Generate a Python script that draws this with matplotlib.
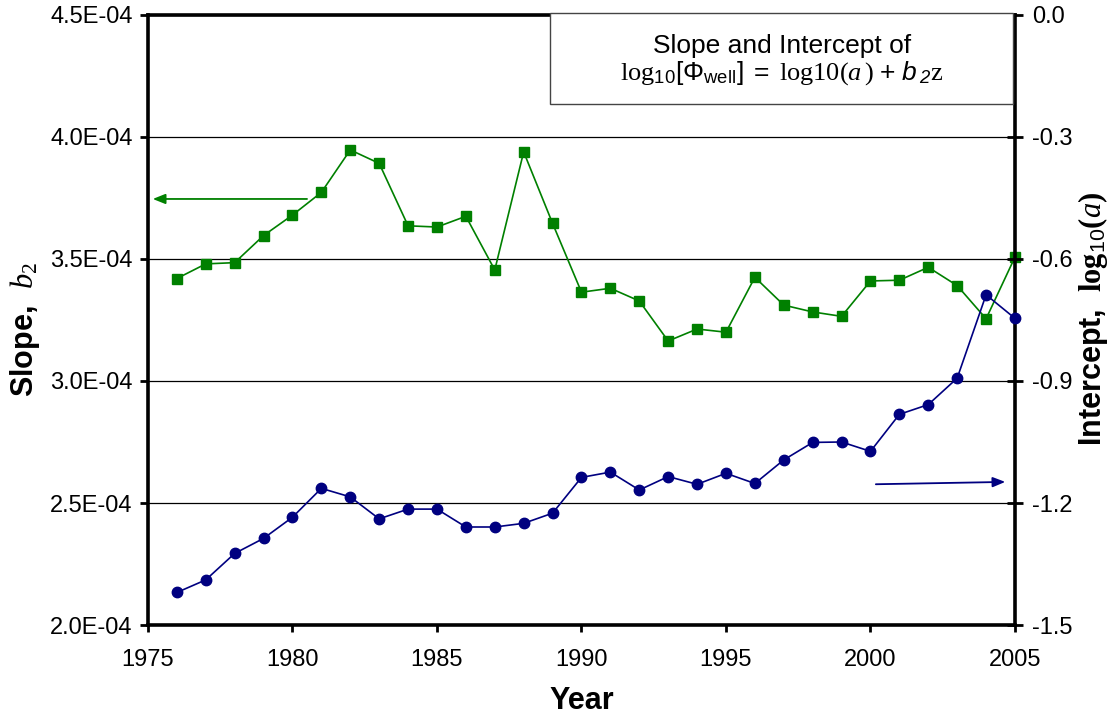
import matplotlib
matplotlib.use("Agg")
import matplotlib.pyplot as plt
from matplotlib.patches import Rectangle
from matplotlib.ticker import FixedLocator, FuncFormatter

plt.rcParams["font.family"] = ["Liberation Sans", "DejaVu Sans"]
plt.rcParams["axes.unicode_minus"] = False
plt.rcParams["mathtext.fontset"] = "custom"
plt.rcParams["mathtext.rm"] = "Liberation Serif"
plt.rcParams["mathtext.it"] = "Liberation Serif:italic"
plt.rcParams["mathtext.bf"] = "Liberation Serif:bold"
plt.rcParams["mathtext.sf"] = "Liberation Sans"
plt.rcParams["mathtext.cal"] = "Liberation Sans:italic"

# yearly fit results
years = list(range(1976, 2006))
slope_b2 = [3.42e-4, 3.48e-4, 3.485e-4, 3.596e-4, 3.68e-4, 3.773e-4, 3.947e-4, 3.892e-4,
            3.636e-4, 3.631e-4, 3.675e-4, 3.455e-4, 3.939e-4, 3.646e-4, 3.364e-4, 3.38e-4,
            3.328e-4, 3.164e-4, 3.213e-4, 3.20e-4, 3.425e-4, 3.311e-4, 3.283e-4, 3.265e-4,
            3.41e-4, 3.413e-4, 3.466e-4, 3.391e-4, 3.255e-4, 3.508e-4]
intercept_log_a = [-1.42, -1.389, -1.324, -1.287, -1.235, -1.164, -1.185, -1.239,
                   -1.215, -1.215, -1.259, -1.259, -1.25, -1.225, -1.137, -1.124,
                   -1.168, -1.135, -1.154, -1.127, -1.152, -1.094, -1.051, -1.05,
                   -1.073, -0.982, -0.958, -0.893, -0.688, -0.746]

x_ticks = [1975, 1980, 1985, 1990, 1995, 2000, 2005]
left_ticks = [2.0e-4, 2.5e-4, 3.0e-4, 3.5e-4, 4.0e-4, 4.5e-4]
right_ticks = [-1.5, -1.2, -0.9, -0.6, -0.3, 0.0]

GREEN = "#008000"
NAVY = "#000080"

fig = plt.figure(figsize=(11.1, 7.17), dpi=100)
ax = fig.add_axes([0.1333, 0.1283, 0.7811, 0.8508])
ax2 = ax.twinx()

ax.plot(years, slope_b2, color=GREEN, lw=1.2, marker="s", ms=7.5, mec=GREEN, mfc=GREEN,
        clip_on=False, zorder=3)
ax2.plot(years, intercept_log_a, color=NAVY, lw=1.2, marker="o", ms=7.5, mec=NAVY, mfc=NAVY,
         clip_on=False, zorder=3)

ax.set_xlim(1975, 2005)
ax.set_ylim(2.0e-4, 4.5e-4)
ax2.set_ylim(-1.5, 0.0)
ax.xaxis.set_major_locator(FixedLocator(x_ticks))
ax.yaxis.set_major_locator(FixedLocator(left_ticks))
ax2.yaxis.set_major_locator(FixedLocator(right_ticks))
ax.yaxis.set_major_formatter(FuncFormatter(lambda v, p: f"{v:.1E}"))
ax2.yaxis.set_major_formatter(FuncFormatter(lambda v, p: f"{v:.1f}"))

ax.grid(axis="y", color="black", lw=0.9)
ax.set_axisbelow(True)

for a in (ax, ax2):
    for s in a.spines.values():
        s.set_linewidth(2.6)
ax2.spines["top"].set_visible(False)
ax2.spines["left"].set_visible(False)
ax2.spines["bottom"].set_visible(False)
ax.spines["right"].set_visible(False)

ax.tick_params(axis="x", direction="out", length=5, width=2, labelsize=17, pad=12)
ax.tick_params(axis="y", direction="out", length=6, width=2, labelsize=17, pad=5)
ax2.tick_params(axis="y", direction="inout", length=12, width=2, labelsize=17, pad=6)

# direction arrows pointing each series to its axis
ax.annotate("", xy=(1975.07, 3.746e-4), xytext=(1980.6, 3.746e-4),
            arrowprops=dict(arrowstyle="-|>,head_length=0.75,head_width=0.3",
                            color=GREEN, lw=1.3))
ax2.annotate("", xy=(2004.76, -1.148), xytext=(2000.09, -1.154),
             arrowprops=dict(arrowstyle="-|>,head_length=0.75,head_width=0.3",
                             color=NAVY, lw=1.3))

# title box in the upper right corner
ax2.add_patch(Rectangle((0.4637, 0.854), 0.534, 0.149, transform=ax2.transAxes,
                        facecolor="white", edgecolor="#444444", lw=1.0,
                        clip_on=False, zorder=10))
ax2.text(0.731, 0.9377, "Slope and Intercept of", transform=ax2.transAxes,
         ha="center", va="baseline", fontsize=19, zorder=11)
ax2.text(0.731, 0.8934,
         r"$\mathrm{log}_{\mathsf{10}}\mathsf{[\Phi}_{\mathsf{well}}\mathsf{]}"
         r"\ \mathsf{=}\ \mathrm{log10(}\mathit{a}\,\mathrm{)}\ \mathsf{+}\ "
         r"\mathcal{b}\,_{\mathcal{2}}\mathrm{z}$",
         transform=ax2.transAxes, ha="center", va="baseline", fontsize=19, zorder=11)

fig.text(0.0225, 0.54, r"Slope,  $\mathit{b}_{\mathrm{2}}$", rotation=90,
         ha="center", va="center", fontsize=22, fontweight="bold")
fig.text(0.985, 0.555, r"Intercept,  $\mathbf{log}_{\mathsf{10}}\mathbf{(}\mathit{a}\mathbf{)}$",
         rotation=90, ha="center", va="center", fontsize=22, fontweight="bold")
fig.text(0.524, 0.022, "Year", ha="center", va="center", fontsize=22, fontweight="bold")

fig.savefig("out.png", dpi=100, facecolor="white")
